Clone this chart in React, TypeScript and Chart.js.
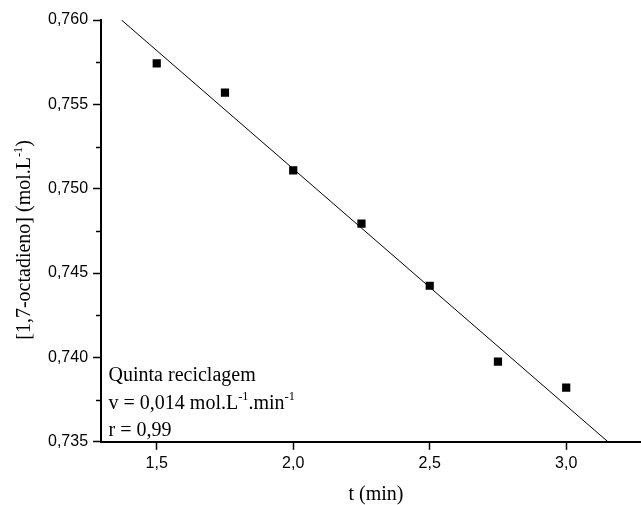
import React, { useEffect, useRef } from 'react';
import { Chart, registerables } from 'chart.js';

Chart.register(...registerables);

// ---- data ----
const times = [1.5, 1.75, 2.0, 2.25, 2.5, 2.75, 3.0];
const concentrations = [0.75743, 0.75569, 0.75109, 0.74793, 0.74425, 0.73975, 0.73821];
const fitTimes = [1.371, 3.153];
const fitConcentrations = [0.76, 0.735];
const xTickValues = [1.5, 2.0, 2.5, 3.0];
const yTickValues = [0.735, 0.74, 0.745, 0.75, 0.755, 0.76];
const yMinorTickValues = [0.7375, 0.7425, 0.7475, 0.7525, 0.7575];
const xMin = 1.296;
const xMax = 3.274;
const yMin = 0.735;
const yMax = 0.76;
const xTitle = 't (min)';
type Seg = { t: string; sup?: boolean };
const yTitle: Seg[] = [{ t: '[1,7-octadieno] (mol.L' }, { t: '-1', sup: true }, { t: ')' }];
const annotationLines: Seg[][] = [
  [{ t: 'Quinta reciclagem' }],
  [{ t: 'v = 0,014 mol.L' }, { t: '-1', sup: true }, { t: '.min' }, { t: '-1', sup: true }],
  [{ t: 'r = 0,99' }],
];

const SERIF = '"Liberation Serif", "Times New Roman", serif';
const SANS = '"Liberation Sans", Arial, sans-serif';

function measureSegs(ctx: CanvasRenderingContext2D, segs: Seg[], size: number) {
  let w = 0;
  for (const s of segs) {
    ctx.font = `${s.sup ? size * 0.62 : size}px ${SERIF}`;
    w += ctx.measureText(s.t).width;
  }
  return w;
}

function drawSegs(ctx: CanvasRenderingContext2D, segs: Seg[], x: number, y: number, size: number) {
  let cx = x;
  for (const s of segs) {
    const fs = s.sup ? size * 0.62 : size;
    ctx.font = `${fs}px ${SERIF}`;
    ctx.fillText(s.t, cx, s.sup ? y - size * 0.42 : y);
    cx += ctx.measureText(s.t).width;
  }
}

const textPlugin = {
  id: 'textPlugin',
  afterDraw(chart: any) {
    const ctx: CanvasRenderingContext2D = chart.ctx;
    const ys = chart.scales.y;
    const area = chart.chartArea;
    ctx.save();
    // minor ticks on y axis
    ctx.strokeStyle = '#000';
    ctx.lineWidth = 1.5;
    yMinorTickValues.forEach((v) => {
      const py = Math.round(ys.getPixelForValue(v)) + 0.5;
      ctx.beginPath();
      ctx.moveTo(area.left - 5, py);
      ctx.lineTo(area.left, py);
      ctx.stroke();
    });
    ctx.fillStyle = '#000';
    ctx.textBaseline = 'alphabetic';
    ctx.textAlign = 'left';
    // annotation
    const size = 20;
    const offsets = [61, 33, 6];
    annotationLines.forEach((segs, i) => {
      drawSegs(ctx, segs, area.left + 7.5, area.bottom - offsets[i], size);
    });
    // x title
    const wx = measureSegs(ctx, [{ t: xTitle }], size);
    drawSegs(ctx, [{ t: xTitle }], (area.left + area.right) / 2 + 5 - wx / 2, area.bottom + 58, size);
    // y title
    const wy = measureSegs(ctx, yTitle, size);
    ctx.translate(30, (area.top + area.bottom) / 2 + 9);
    ctx.rotate(-Math.PI / 2);
    drawSegs(ctx, yTitle, -wy / 2, 0, size);
    ctx.restore();
  },
};

export default function App() {
  const ref = useRef<HTMLCanvasElement>(null);
  useEffect(() => {
    if (!ref.current) return;
    const chart = new Chart(ref.current, {
      type: 'scatter',
      data: {
        datasets: [
          {
            label: 'dados',
            data: times.map((t, i) => ({ x: t, y: concentrations[i] })),
            pointStyle: 'rect',
            pointRadius: 5.8,
            pointHoverRadius: 5.8,
            backgroundColor: '#000',
            borderColor: '#000',
            borderWidth: 0,
          },
          {
            label: 'ajuste',
            data: fitTimes.map((t, i) => ({ x: t, y: fitConcentrations[i] })),
            showLine: true,
            borderColor: '#000',
            borderWidth: 1,
            pointRadius: 0,
            pointHoverRadius: 0,
            fill: false,
          },
        ],
      },
      options: {
        responsive: false,
        animation: false,
        events: [],
        layout: { autoPadding: false, padding: { left: 43, top: 20, right: 0, bottom: 28 } },
        plugins: { legend: { display: false }, tooltip: { enabled: false } },
        scales: {
          x: {
            type: 'linear',
            min: xMin,
            max: xMax,
            afterBuildTicks: (s: any) => {
              s.ticks = xTickValues.map((v) => ({ value: v }));
            },
            afterFit: (s: any) => {
              s.paddingRight = 0;
            },
            grid: { display: true, drawOnChartArea: false, drawTicks: true, tickLength: 8, tickColor: '#000', tickWidth: 1.5 },
            border: { display: true, color: '#000', width: 2 },
            ticks: {
              color: '#000',
              font: { family: SANS, size: 16 },
              padding: 4,
              maxRotation: 0,
              autoSkip: false,
              callback: (v: any) => Number(v).toFixed(1).replace('.', ','),
            },
          },
          y: {
            type: 'linear',
            min: yMin,
            max: yMax,
            afterBuildTicks: (s: any) => {
              s.ticks = yTickValues.map((v) => ({ value: v }));
            },
            grid: { display: true, drawOnChartArea: false, drawTicks: true, tickLength: 8, tickColor: '#000', tickWidth: 1.5 },
            border: { display: true, color: '#000', width: 2 },
            ticks: {
              color: '#000',
              font: { family: SANS, size: 16 },
              padding: 5,
              autoSkip: false,
              callback: (v: any) => Number(v).toFixed(3).replace('.', ','),
            },
          },
        },
      },
      plugins: [textPlugin],
    });
    return () => chart.destroy();
  }, []);
  return (
    <div style={{ position: 'absolute', left: 0, top: 0, width: 641, height: 505, background: '#fff' }}>
      <canvas ref={ref} width={641} height={505} />
    </div>
  );
}
